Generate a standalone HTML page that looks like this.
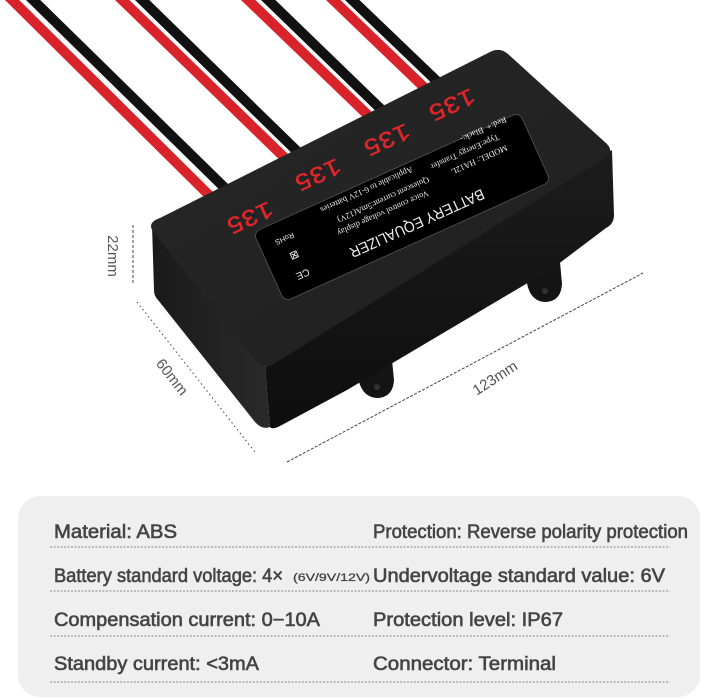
<!DOCTYPE html>
<html><head><meta charset="utf-8"><style>
html,body{margin:0;padding:0;background:#fff;}
svg{display:block;}
</style></head><body>
<svg width="702" height="699" viewBox="0 0 702 699" xmlns="http://www.w3.org/2000/svg">
<defs>
<linearGradient id="top" x1="0" y1="0" x2="1" y2="1">
<stop offset="0" stop-color="#282828"/><stop offset="1" stop-color="#1e1e1e"/></linearGradient>
<linearGradient id="front" x1="0" y1="0" x2="0" y2="1">
<stop offset="0" stop-color="#1c1c1c"/><stop offset="1" stop-color="#0e0e0e"/></linearGradient>
<linearGradient id="side" x1="0" y1="0" x2="1" y2="0">
<stop offset="0" stop-color="#1a1a1a"/><stop offset="1" stop-color="#2a2a2a"/></linearGradient>
</defs>
<g stroke-width="10" stroke-linecap="butt">
<line x1="7" y1="-5" x2="217" y2="203" stroke="#d9232a"/>
<line x1="28" y1="-5" x2="230" y2="193" stroke="#111"/>
<line x1="117" y1="-5" x2="290" y2="163" stroke="#d9232a"/>
<line x1="137" y1="-5" x2="303" y2="157" stroke="#111"/>
<line x1="243" y1="-5" x2="373" y2="120" stroke="#d9232a"/>
<line x1="263" y1="-5" x2="387" y2="115" stroke="#111"/>
<line x1="328" y1="-5" x2="430" y2="93" stroke="#d9232a"/>
<line x1="347" y1="-5" x2="443" y2="87" stroke="#111"/>
</g>
<g fill="#141414">
<path d="M357,372 Q360,398 378,398 Q393,397 394,380 L392,360 Z"/>
<path d="M526,276 Q528,302 546,302 Q561,301 562,284 L560,262 Z"/>
</g>
<circle cx="377" cy="387" r="3" fill="#333"/>
<circle cx="545" cy="291" r="3" fill="#333"/>
<path d="M152,225 L265,367 L270,427 Q262,430 255,422 L158,300 Q154,296 154,290 Z" fill="url(#side)"/>
<path d="M265,367 L612,150 L614,215 Q614,224 606,228 L553,268 L347,390 L280,426 Q272,430 270,427 Z" fill="url(#front)"/>
<path d="M160,218 L490,52 Q500,47 508,54 L607,144 Q614,152 606,157 L272,365 Q262,370 255,360 L152,230 Q148,222 160,218 Z" fill="url(#top)"/>
<g transform="translate(402,207) rotate(155.7)">
<rect x="-146" y="-38" width="292" height="76" rx="7" fill="#000" stroke="#555" stroke-width="0.8"/>
<g fill="#eee" font-family="Liberation Serif, serif" font-size="8.5" text-anchor="middle">
<text x="-7" y="-16" font-family="Liberation Sans, sans-serif" font-size="15" textLength="146" lengthAdjust="spacingAndGlyphs">BATTERY EQUALIZER</text>
<text x="20" y="5">Voice control voltage display</text>
<text x="14" y="17">Quiescent current:5mA(12V)</text>
<text x="25" y="33">Applicable to 6-12V batteries</text>
<text x="-90" y="14">MODEL: HA12L</text>
<text x="-80" y="27">Type:Energy Transfer</text>
<text x="-106" y="40">Red:+ &#160;Black:-</text>
<text x="118" y="-17" font-family="Liberation Sans, sans-serif" font-size="10">CE</text>
<text x="118" y="4" font-size="11">⊠</text>
<text x="120" y="22" font-family="Liberation Sans, sans-serif" font-size="7.5">RoHS</text>
</g>
</g>
<g fill="#e0262a" stroke="#e0262a" stroke-width="0.4" font-family="Liberation Mono, monospace" font-size="24" text-anchor="middle">
<text transform="translate(250,218) rotate(155.7)" y="8" textLength="48" lengthAdjust="spacingAndGlyphs">135</text>
<text transform="translate(318,175) rotate(155.7)" y="8" textLength="48" lengthAdjust="spacingAndGlyphs">135</text>
<text transform="translate(387,140) rotate(155.7)" y="8" textLength="48" lengthAdjust="spacingAndGlyphs">135</text>
<text transform="translate(452,105) rotate(155.7)" y="8" textLength="48" lengthAdjust="spacingAndGlyphs">135</text>
</g>
<g stroke="#444" stroke-width="1" fill="none">
<line x1="133" y1="225" x2="133" y2="283" stroke-dasharray="3,2"/>
<line x1="137" y1="302" x2="255" y2="452" stroke-dasharray="1.5,3"/>
<line x1="287" y1="462" x2="643" y2="273" stroke-dasharray="3,1.5"/>
</g>
<g fill="#555" font-family="Liberation Sans, sans-serif" font-size="15" text-anchor="middle">
<text transform="translate(113,256) rotate(90)" y="5">22mm</text>
<text transform="translate(172,377) rotate(52)" y="5">60mm</text>
<text transform="translate(495,378) rotate(-33)" y="5">123mm</text>
</g>
<rect x="18" y="496" width="682" height="201" rx="22" fill="#efefef"/>
<g stroke="#888" stroke-width="1" stroke-dasharray="2,1.5">
<line x1="50" y1="547" x2="670" y2="547"/>
<line x1="50" y1="591" x2="670" y2="591"/>
<line x1="50" y1="636" x2="670" y2="636"/>
<line x1="50" y1="682" x2="670" y2="682"/>
</g>
<g fill="#444" font-family="Liberation Sans, sans-serif" font-size="19" stroke="#444" stroke-width="0.6">
<text x="54" y="538" textLength="123" lengthAdjust="spacingAndGlyphs">Material: ABS</text>
<text x="373" y="538" textLength="315" lengthAdjust="spacingAndGlyphs">Protection: Reverse polarity protection</text>
<text x="54" y="582" textLength="229" lengthAdjust="spacingAndGlyphs">Battery standard voltage: 4×</text>
<text x="293" y="581" font-size="11" stroke-width="0.3" textLength="77" lengthAdjust="spacingAndGlyphs">(6V/9V/12V)</text>
<text x="373" y="582" textLength="292" lengthAdjust="spacingAndGlyphs">Undervoltage standard value: 6V</text>
<text x="54" y="626" textLength="266" lengthAdjust="spacingAndGlyphs">Compensation current: 0−10A</text>
<text x="373" y="626" textLength="190" lengthAdjust="spacingAndGlyphs">Protection level: IP67</text>
<text x="54" y="670" textLength="205" lengthAdjust="spacingAndGlyphs">Standby current: &lt;3mA</text>
<text x="373" y="670" textLength="183" lengthAdjust="spacingAndGlyphs">Connector: Terminal</text>
</g>
</svg>
</body></html>
